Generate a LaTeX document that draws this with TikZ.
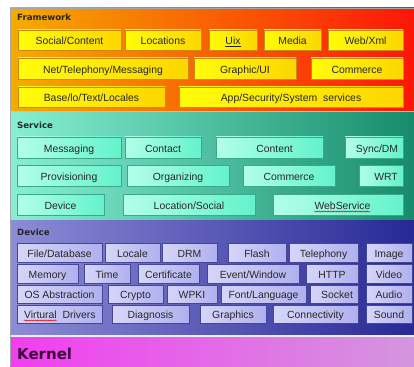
\documentclass[tikz,border=0pt]{standalone}
\usepackage{fontspec}
\setmainfont{Liberation Sans}
\newfontfamily\headfont{DejaVu Sans}
\usetikzlibrary{decorations.pathmorphing}

% layer colours
\definecolor{fwL}{RGB}{245,172,0}
\definecolor{fwM}{RGB}{248,120,0}
\definecolor{fwR}{RGB}{252,22,8}
\definecolor{fwBoxL}{RGB}{255,252,10}
\definecolor{fwBoxR}{RGB}{252,214,0}
\definecolor{fwEdge}{RGB}{200,140,20}
\definecolor{svL}{RGB}{135,240,212}
\definecolor{svR}{RGB}{22,140,108}
\definecolor{svBoxL}{RGB}{178,255,232}
\definecolor{svBoxR}{RGB}{100,242,204}
\definecolor{svEdge}{RGB}{60,168,138}
\definecolor{dvL}{RGB}{140,140,215}
\definecolor{dvR}{RGB}{40,40,150}
\definecolor{dvBoxL}{RGB}{214,214,250}
\definecolor{dvBoxR}{RGB}{176,176,238}
\definecolor{dvEdge}{RGB}{70,70,150}
\definecolor{knL}{RGB}{242,62,240}
\definecolor{knR}{RGB}{212,150,222}
\definecolor{knText}{RGB}{60,0,60}
\definecolor{txt}{RGB}{40,40,40}

% box: style, name, x1, y1, x2, y2, text
\newcommand\blk[7]{%
  \node[#1, minimum width={(#5-#3)*1pt}, minimum height={(#6-#4)*1pt}]
    (#2) at ({(#3+#5)/2},{(#4+#6)/2}) {#7};}

\begin{document}
\begin{tikzpicture}[x=1pt, y=-1pt,
  boxfont/.style={font=\fontsize{10.4}{12}\selectfont, text=txt},
  box/.style={draw, line width=0.6pt, inner sep=0pt, boxfont, text height=12pt, text depth=2pt},
  lbl/.style={inner sep=0pt, boxfont},
  fwbox/.style={box, draw=fwEdge, left color=fwBoxL, right color=fwBoxR},
  svbox/.style={box, draw=svEdge, left color=svBoxL, right color=svBoxR},
  dvbox/.style={box, draw=dvEdge, left color=dvBoxL, right color=dvBoxR, text height=11pt},
  squig/.style={red!85!black, line width=0.45pt, decorate,
    decoration={snake, amplitude=0.55pt, segment length=2.2pt}},
  head/.style={anchor=west, inner sep=0pt, text=black!85, font=\headfont\bfseries\fontsize{8.6}{10}\selectfont}]

\useasboundingbox (0,0) rectangle (414,366);
\fill[white] (0,0) rectangle (414,366);

% layer panels
\shade[left color=fwL, middle color=fwM, right color=fwR] (10,8) rectangle (414,112);
\shade[left color=svL, right color=svR] (10,112) rectangle (414,220);
\shade[left color=dvL, right color=dvR] (10,220) rectangle (414,335);
\fill[white!85!dvL] (10,335) rectangle (414,337);
\shade[left color=knL, right color=knR] (10,337) rectangle (414,366);
\draw[gray!70, line width=0.5pt] (414,8) -- (10,8) -- (10,366);
\draw[fwBoxR!70!fwL, line width=1pt] (10,111.5) -- (414,111.5);

% Framework
\node[head] (fwHead) at (17,17) {Framework};
\blk{fwbox}{f1}{18}{30}{121}{50}{Social/Content}
\blk{fwbox}{f2}{125}{30}{201}{50}{Locations\hspace{10pt}}
\blk{fwbox}{f3}{209}{30}{257}{50}{\underline{Uix}}
\blk{fwbox}{f4}{264}{30}{321}{50}{Media}
\blk{fwbox}{f5}{328}{30}{403}{50}{Web/Xml}
\blk{fwbox}{f6}{18}{58}{188}{79}{Net/Telephony/Messaging}
\blk{fwbox}{f7}{194}{58}{296}{79}{Graphic/UI}
\blk{fwbox}{f8}{311}{58}{403}{79}{Commerce}
\blk{fwbox}{f9}{18}{87}{165}{107}{Base/lo/Text/Locales}
\blk{fwbox}{f10}{179}{87}{403}{107}{App/Security/System\ \ services}

% Service
\node[head] (svHead) at (17,125) {Service};
\blk{svbox}{s1}{17}{137}{121}{158}{Messaging}
\blk{svbox}{s2}{125}{137}{201}{158}{Contact}
\blk{svbox}{s3}{216}{137}{323}{158}{\hspace{10pt}Content}
\blk{svbox}{s4}{345}{137}{403}{158}{\hspace{6pt}Sync/DM}
\blk{svbox}{s5}{17}{165}{121}{186}{Provisioning}
\blk{svbox}{s6}{127}{165}{229}{186}{Organizing}
\blk{svbox}{s7}{243}{165}{335}{186}{Commerce}
\blk{svbox}{s8}{359}{165}{403}{186}{\hspace{10pt}WRT}
\blk{svbox}{s9}{17}{194}{104}{215}{Device}
\blk{svbox}{s10}{123}{194}{255}{215}{Location/Social}
\blk{svbox}{s11}{273}{194}{403}{215}{}
\node[lbl, anchor=base] (wsT) at ([xshift=4.5pt,yshift=-5pt]s11.center) {WebService};
\draw[squig] ([yshift=-2pt]wsT.base west) -- ([yshift=-2pt]wsT.base east);

% Device
\node[head] (dvHead) at (17,232) {Device};
\blk{dvbox}{d1}{17}{243}{102}{262}{File/Database}
\blk{dvbox}{d2}{105}{243}{160}{262}{Locale}
\blk{dvbox}{d3}{162}{243}{217}{262}{DRM}
\blk{dvbox}{d4}{228}{243}{286}{262}{Flash}
\blk{dvbox}{d5}{289}{243}{358}{262}{Telephony}
\blk{dvbox}{d6}{366}{243}{412}{262}{Image}
\blk{dvbox}{d7}{17}{264}{78}{283}{Memory}
\blk{dvbox}{d8}{84}{264}{130}{283}{Time}
\blk{dvbox}{d9}{138}{264}{199}{283}{Certificate}
\blk{dvbox}{d10}{207}{264}{299}{283}{Event/Window}
\blk{dvbox}{d11}{306}{264}{358}{283}{HTTP}
\blk{dvbox}{d12}{366}{264}{412}{283}{Video}
\blk{dvbox}{d13}{17}{285}{102}{303}{OS Abstraction}
\blk{dvbox}{d14}{108}{285}{163}{303}{Crypto}
\blk{dvbox}{d15}{167}{285}{217}{303}{WPKI}
\blk{dvbox}{d16}{221}{285}{306}{303}{Font/Language}
\blk{dvbox}{d17}{310}{285}{358}{303}{\hspace{6pt}Socket}
\blk{dvbox}{d18}{366}{285}{412}{303}{Audio}
\blk{dvbox}{d19}{17}{305}{102}{323}{}
\node[lbl, anchor=base east] (vdA) at ([xshift=-2.5pt,yshift=-4.5pt]d19.center) {Virtural};
\node[lbl, anchor=base west] (vdB) at ([xshift=3pt,yshift=-4.5pt]d19.center) {Drivers};
\draw[squig] ([yshift=-2pt]vdA.base west) -- ([yshift=-2pt]vdA.base east);
\blk{dvbox}{d20}{112}{305}{189}{323}{Diagnosis}
\blk{dvbox}{d21}{200}{305}{266}{323}{Graphics}
\blk{dvbox}{d22}{273}{305}{358}{323}{Connectivity}
\blk{dvbox}{d23}{366}{305}{412}{323}{Sound}

% Kernel
\node[anchor=west, inner sep=0pt, text=knText, font=\headfont\bfseries\fontsize{15}{18}\selectfont]
  (knHead) at (17,353.5) {Kernel};
\end{tikzpicture}
\end{document}
